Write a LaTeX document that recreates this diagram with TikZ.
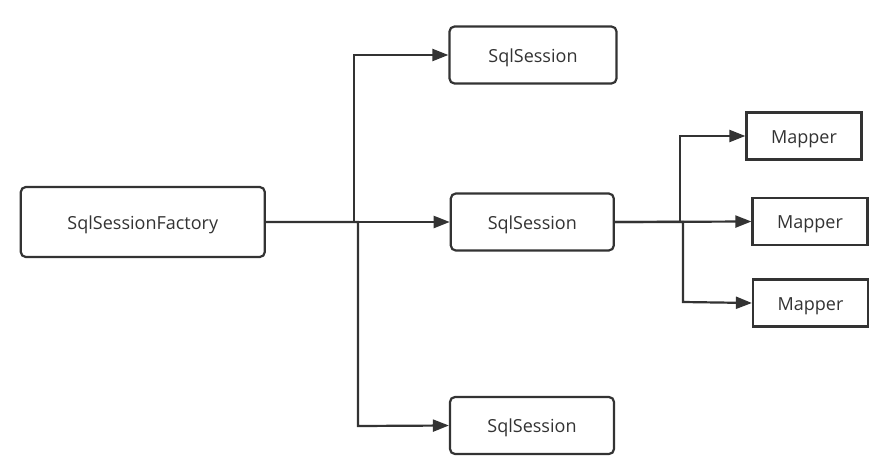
\documentclass[tikz,border=0pt]{standalone}
\usepackage{fontspec}
\setmainfont{Open Sans}
\usetikzlibrary{arrows.meta}
\definecolor{lineC}{HTML}{333333}

\tikzset{
  roundbox/.style={draw=lineC,line width=2.2pt,rounded corners=5pt,fill=white,text=lineC,font=\fontsize{18}{21}\selectfont,text height=14pt,text depth=0pt},
  squarebox/.style={draw=lineC,line width=2.2pt,fill=white,text=lineC,font=\fontsize{18}{21}\selectfont,text height=14pt,text depth=0pt,minimum width=115pt,minimum height=47pt},
  link/.style={draw=lineC,line width=2.2pt,-{Triangle[length=16pt,width=12pt]}},
}

\begin{document}
\begin{tikzpicture}[x=1pt,y=-1pt]
\useasboundingbox (0,0) rectangle (892,469);
\node[roundbox,minimum width=244pt,minimum height=70pt] (fac) at (142.8,222) {SqlSessionFactory};
\node[roundbox,minimum width=167pt,minimum height=57pt] (s1) at (533,55) {SqlSession};
\node[roundbox,minimum width=163pt,minimum height=57pt] (s2) at (532.3,222) {SqlSession};
\node[roundbox,minimum width=164pt,minimum height=57pt] (s3) at (532,425.5) {SqlSession};
\node[squarebox] (m1) at (804,136) {Mapper};
\node[squarebox] (m2) at (810,221.5) {Mapper};
\node[squarebox] (m3) at (810.5,303) {Mapper};
% bend points
\coordinate (b1) at (354,55);
\coordinate (b3) at (358,426);
\coordinate (c1) at (680,136);
\coordinate (c3) at (683,302);
\draw[link] (fac.east) -| (b1) -- (s1.west);
\draw[link] (fac.east) -- (s2.west);
\draw[link] (fac.east) -| (b3) -- (s3.west);
\draw[link] (s2.east) -| (c1) -- (m1.west);
\draw[link] (s2.east) -- (m2.west);
\draw[link] (s2.east) -| (c3) -- (m3.west);
\end{tikzpicture}
\end{document}
